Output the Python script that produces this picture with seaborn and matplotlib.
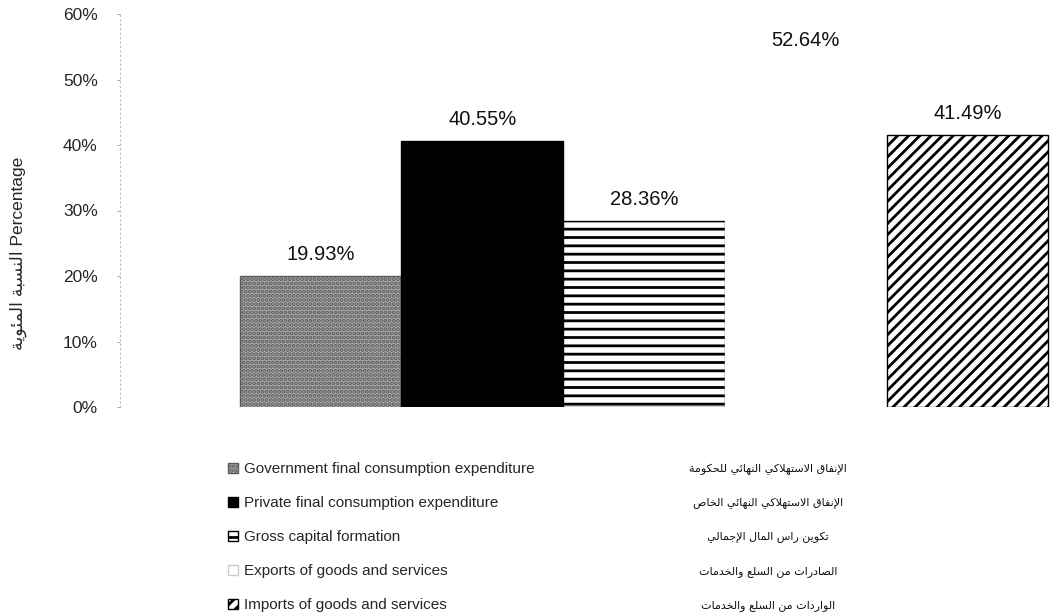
import matplotlib
matplotlib.use('Agg')
import matplotlib.pyplot as plt
import seaborn as sns

categories = ['Government final consumption expenditure',
              'Private final consumption expenditure',
              'Gross capital formation',
              'Exports of goods and services',
              'Imports of goods and services']
arabic_labels = ['الإنفاق الاستهلاكي النهائي للحكومة',
                 'الإنفاق الاستهلاكي النهائي الخاص',
                 'تكوين راس المال الإجمالي',
                 'الصادرات من السلع والخدمات',
                 'الواردات من السلع والخدمات']
values = [19.93, 40.55, 28.36, 52.64, 41.49]
yticks = [0, 10, 20, 30, 40, 50, 60]
ylabel_ar = 'النسبة المئوية'
ylabel_en = 'Percentage'

# ── Arabic shaping (matplotlib does no joining / bidi) ───────────────────────
FORMS = {
    'ا': ('\uFE8D', '\uFE8E', None, None),
    'إ': ('\uFE87', '\uFE88', None, None),
    'ب': ('\uFE8F', '\uFE90', '\uFE91', '\uFE92'),
    'ة': ('\uFE93', '\uFE94', None, None),
    'ت': ('\uFE95', '\uFE96', '\uFE97', '\uFE98'),
    'ج': ('\uFE9D', '\uFE9E', '\uFE9F', '\uFEA0'),
    'ح': ('\uFEA1', '\uFEA2', '\uFEA3', '\uFEA4'),
    'خ': ('\uFEA5', '\uFEA6', '\uFEA7', '\uFEA8'),
    'د': ('\uFEA9', '\uFEAA', None, None),
    'ر': ('\uFEAD', '\uFEAE', None, None),
    'س': ('\uFEB1', '\uFEB2', '\uFEB3', '\uFEB4'),
    'ص': ('\uFEB9', '\uFEBA', '\uFEBB', '\uFEBC'),
    'ع': ('\uFEC9', '\uFECA', '\uFECB', '\uFECC'),
    'ف': ('\uFED1', '\uFED2', '\uFED3', '\uFED4'),
    'ق': ('\uFED5', '\uFED6', '\uFED7', '\uFED8'),
    'ك': ('\uFED9', '\uFEDA', '\uFEDB', '\uFEDC'),
    'ل': ('\uFEDD', '\uFEDE', '\uFEDF', '\uFEE0'),
    'م': ('\uFEE1', '\uFEE2', '\uFEE3', '\uFEE4'),
    'ن': ('\uFEE5', '\uFEE6', '\uFEE7', '\uFEE8'),
    'ه': ('\uFEE9', '\uFEEA', '\uFEEB', '\uFEEC'),
    'و': ('\uFEED', '\uFEEE', None, None),
    'ي': ('\uFEF1', '\uFEF2', '\uFEF3', '\uFEF4'),
    'ئ': ('\uFE89', '\uFE8A', '\uFE8B', '\uFE8C'),
    'لا': ('\uFEFB', '\uFEFC', None, None),
    'لإ': ('\uFEF9', '\uFEFA', None, None),
}


def shape_ar(txt):
    toks, i = [], 0
    while i < len(txt):
        if txt[i] == 'ل' and i + 1 < len(txt) and txt[i + 1] in 'اإ':
            toks.append(txt[i:i + 2]); i += 2
        else:
            toks.append(txt[i]); i += 1
    out = []
    for k, t in enumerate(toks):
        if t not in FORMS:
            out.append(t); continue
        iso, fin, ini, med = FORMS[t]
        prev_j = k > 0 and toks[k - 1] in FORMS and FORMS[toks[k - 1]][2] is not None
        next_j = ini is not None and k + 1 < len(toks) and toks[k + 1] in FORMS
        out.append(med if prev_j and next_j else fin if prev_j else ini if next_j else iso)
    return ''.join(reversed(out))


sns.set_style('white')
plt.rcParams['font.family'] = ['Liberation Sans', 'DejaVu Sans']
plt.rcParams['hatch.linewidth'] = 2.0

fig = plt.figure(figsize=(10.5, 6.15), dpi=100)
ax = fig.add_axes([120 / 1050, 208 / 615, 930 / 1050, 393 / 615])

colors = ['#ababab', '#000000', '#ffffff', '#ffffff', '#ffffff']
sns.barplot(x=categories, y=values, hue=categories, palette=colors, dodge=False,
            width=1.0, legend=False, saturation=1, ax=ax)

hatches = ['....', None, '--', None, '///']
edges = ['#5a5a5a', '#000000', '#000000', '#ffffff', '#000000']
for p, h, e in zip(ax.patches, hatches, edges):
    p.set_edgecolor(e)
    p.set_linewidth(1.0)
    if h:
        p.set_hatch(h)

for c in ax.containers:
    ax.bar_label(c, labels=[f'{v:.2f}%' for v in c.datavalues], padding=9,
                 fontsize=14.5, color='#111111')

ax.set_xlim(-1.24, 4.51)
ax.set_ylim(0, 60)
ax.set_yticks(yticks)
ax.set_yticklabels([f'{t}%' for t in yticks], fontsize=12.5)
ax.set_xticks([])
ax.set_xlabel('')
# visual order bottom->top: Arabic then English
ax.set_ylabel(shape_ar(ylabel_ar) + ' ' + ylabel_en, fontsize=12.5,
              family=['Liberation Sans', 'DejaVu Sans'])
ax.yaxis.set_label_coords(-0.1, 0.39)
for s in ['top', 'right', 'bottom']:
    ax.spines[s].set_visible(False)
ax.spines['left'].set_color('#bbbbbb')
ax.spines['left'].set_linestyle((0, (1, 3)))
ax.spines['left'].set_linewidth(0.8)
ax.tick_params(axis='y', length=2, width=0.6, color='#999999', pad=14, left=True)

leg = fig.legend(handles=list(ax.patches), labels=categories, loc='upper left',
                 bbox_to_anchor=(222 / 1050, 1 - 456 / 615), frameon=False,
                 fontsize=11, handlelength=0.65, handleheight=0.65, handletextpad=0.4,
                 labelspacing=1.31, borderaxespad=0)
# faint outline for the white Exports marker
leg.legend_handles[3].set_edgecolor('#cccccc')

fig.canvas.draw()
for t, ar in zip(leg.get_texts(), arabic_labels):
    bb = t.get_window_extent()
    yc = (bb.y0 + bb.y1) / 2 / fig.bbox.height
    fig.text(768 / 1050, yc, shape_ar(ar), ha='center', va='center',
             fontsize=8, family='DejaVu Sans', color='#111111')

fig.savefig('out.png', dpi=100)
